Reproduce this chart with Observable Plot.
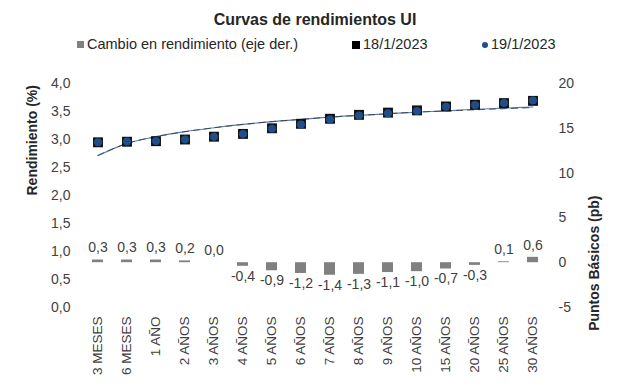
<!DOCTYPE html>
<html><head><meta charset="utf-8">
<script src="https://cdn.jsdelivr.net/npm/d3@7"></script>
<script src="https://cdn.jsdelivr.net/npm/@observablehq/plot@0.6"></script>
<style>
body{margin:0;background:#fff;font-family:"Liberation Sans",Arial,sans-serif;}
#wrap{position:relative;width:617px;height:390px;overflow:hidden;}
#head{position:relative;height:58px;}
.title{position:absolute;left:0;width:630px;top:10px;text-align:center;font-weight:bold;font-size:16px;line-height:20px;color:#262626;}
.leg{position:absolute;top:36px;font-size:14.5px;color:#262626;display:flex;align-items:center;white-space:nowrap;line-height:17px;}
.sw{display:inline-block;margin-right:3px;}
</style></head><body>
<div id="wrap">
<div id="head">
  <div class="title">Curvas de rendimientos UI</div>
  <div class="leg" style="left:77px"><span class="sw" style="width:7px;height:7px;background:#808080"></span>Cambio en rendimiento (eje der.)</div>
  <div class="leg" style="left:352px"><span class="sw" style="width:8px;height:8px;background:#000"></span>18/1/2023</div>
  <div class="leg" style="left:482px"><span class="sw" style="width:6px;height:6px;border-radius:50%;background:#1f4e8a"></span>19/1/2023</div>
</div>
<div id="chart"></div>
</div>
<script>
const plazos = ["3 MESES","6 MESES","1 AÑO","2 AÑOS","3 AÑOS","4 AÑOS","5 AÑOS","6 AÑOS","7 AÑOS","8 AÑOS","9 AÑOS","10 AÑOS","15 AÑOS","20 AÑOS","25 AÑOS","30 AÑOS"];
const rend18 = [2.95,2.96,2.97,3.00,3.05,3.10,3.20,3.28,3.37,3.44,3.48,3.52,3.59,3.62,3.65,3.69];
const rend19 = [2.953,2.963,2.973,3.002,3.05,3.096,3.191,3.268,3.356,3.427,3.469,3.51,3.583,3.617,3.651,3.696];
const cambio = [0.3,0.3,0.3,0.2,0.0,-0.4,-0.9,-1.2,-1.4,-1.3,-1.1,-1.0,-0.7,-0.3,0.1,0.6];
const tendencia18 = [2.72,2.93,3.05,3.14,3.21,3.27,3.32,3.36,3.40,3.43,3.46,3.49,3.51,3.53,3.55,3.57];
const tendencia19 = [2.71,2.93,3.05,3.14,3.21,3.27,3.32,3.36,3.40,3.43,3.46,3.49,3.51,3.54,3.56,3.58];
const ticksIzq = [0,0.5,1,1.5,2,2.5,3,3.5,4];
const ticksDer = [-5,0,5,10,15,20];

const data = plazos.map((p,i)=>({plazo:p, r18:rend18[i], r19:rend19[i], c:cambio[i], t18:tendencia18[i], t19:tendencia19[i]}));
// map right-axis (pb, -5..20) onto left-axis domain (0..4)
const toLeft = v => (v + 5) * 4 / 25;
const fromLeft = v => v * 25 / 4 - 5;
const fmt = v => v.toFixed(1).replace(".", ",");

const chart = Plot.plot({
  width: 617, height: 332,
  marginLeft: 82, marginRight: 70, marginTop: 25, marginBottom: 83,
  style: {fontFamily: "'Liberation Sans', Arial, sans-serif", fontSize: "14px", color: "#404040", background: "#fff"},
  x: {type: "band", domain: plazos, padding: 0},
  y: {domain: [0, 4]},
  marks: [
    Plot.axisY(ticksIzq, {anchor: "left", tickSize: 0, tickPadding: 12, tickFormat: fmt, label: null, fontSize: 14}),
    Plot.axisY(ticksDer.map(toLeft), {anchor: "right", tickSize: 0, tickPadding: 11, tickFormat: d => String(Math.round(fromLeft(d))), label: null, fontSize: 14}),
    Plot.axisX({anchor: "bottom", tickSize: 0, tickPadding: 9, tickRotate: -90, fontSize: 13.5, label: null}),
    Plot.barY(data, {x: "plazo", y1: () => toLeft(0), y2: d => toLeft(d.c), fill: "#808080", insetLeft: 9, insetRight: 9}),
    Plot.text(data, {filter: d => d.c >= 0, x: "plazo", y: d => toLeft(d.c), text: d => fmt(d.c), dy: -12, fill: "#404040", fontSize: 14}),
    Plot.text(data, {filter: d => d.c < 0, x: "plazo", y: d => toLeft(d.c), text: d => fmt(d.c), dy: 10, fill: "#404040", fontSize: 14}),
    Plot.line(data, {x: "plazo", y: "t19", stroke: "#5a7fb0", strokeWidth: 1.2, curve: "catmull-rom"}),
    Plot.line(data, {x: "plazo", y: "t18", stroke: "#333", strokeWidth: 0.8, strokeDasharray: "6,5", curve: "catmull-rom"}),
    Plot.dot(data, {x: "plazo", y: "r18", symbol: "square", r: 5.6, fill: "#111", stroke: "none"}),
    Plot.dot(data, {x: "plazo", y: "r19", r: 4, fill: "#1f4e8a", stroke: "none"}),
    Plot.text(["Rendimiento (%)"], {frameAnchor: "left", dx: -50, rotate: -90, fontWeight: "bold", fontSize: 14, fill: "#262626"}),
    Plot.text(["Puntos Básicos (pb)"], {frameAnchor: "right", dx: 47, rotate: -90, fontWeight: "bold", fontSize: 14, fill: "#262626"})
  ]
});
document.getElementById("chart").appendChild(chart);
</script>
</body></html>
